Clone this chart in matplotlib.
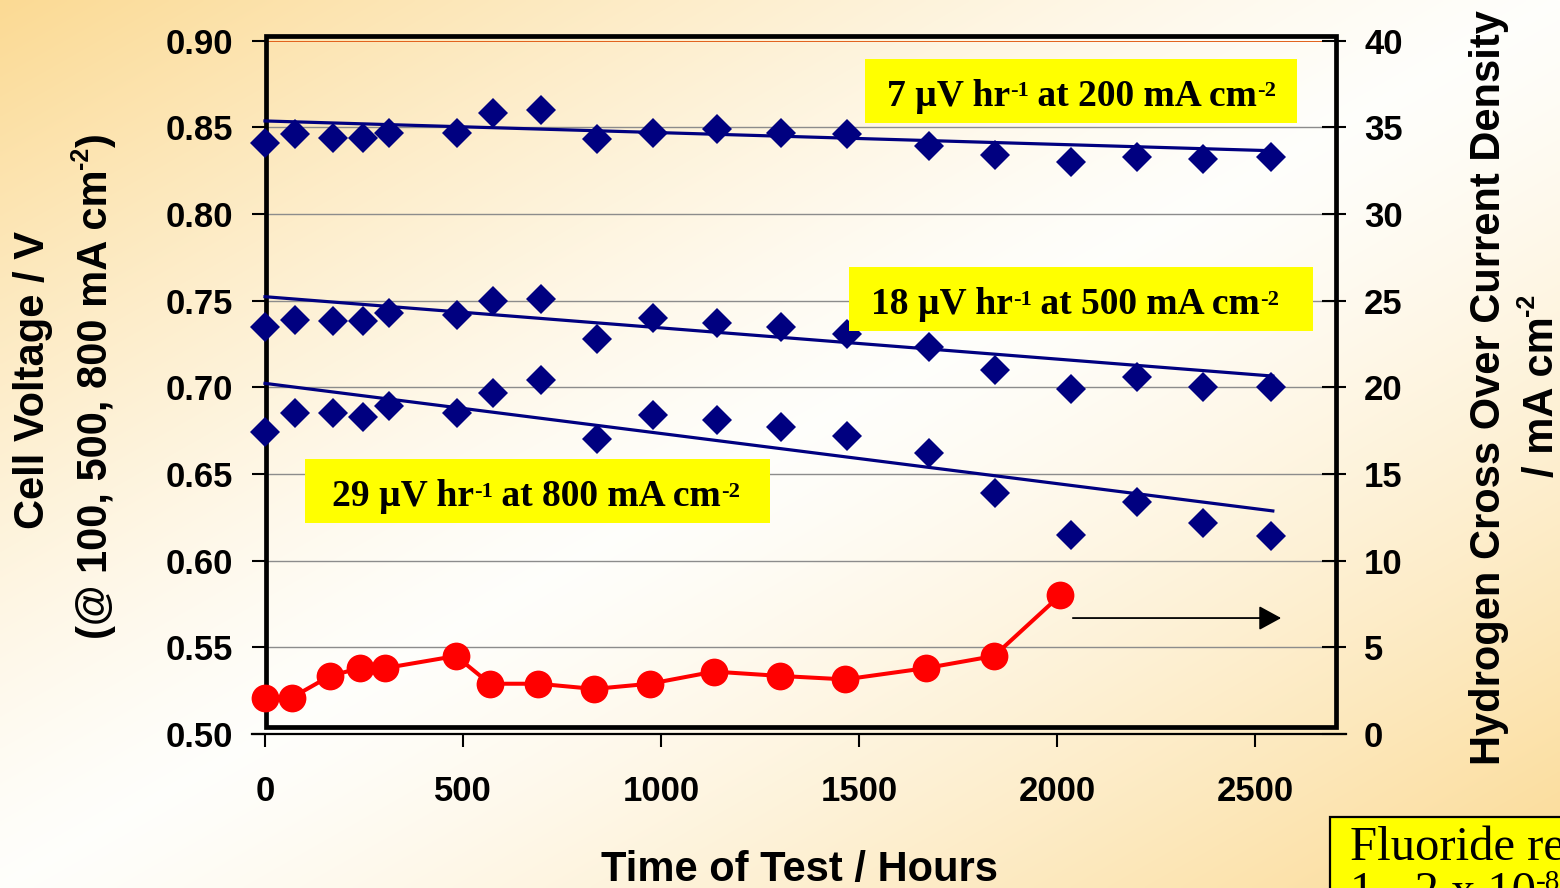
import numpy as np
import matplotlib
matplotlib.use("Agg")
import matplotlib.pyplot as plt
from matplotlib.patches import Rectangle

# ---------------- data ----------------
hours_v = [0, 76, 172, 247, 313, 485, 576, 697, 838, 980, 1141, 1303, 1470,
           1677, 1843, 2035, 2202, 2369, 2540]
v_100 = [0.841, 0.846, 0.844, 0.844, 0.847, 0.847, 0.858, 0.860, 0.843, 0.847,
         0.849, 0.847, 0.846, 0.839, 0.834, 0.830, 0.833, 0.832, 0.833]
v_500 = [0.735, 0.739, 0.738, 0.738, 0.743, 0.742, 0.750, 0.751, 0.728, 0.740,
         0.737, 0.735, 0.731, 0.723, 0.710, 0.699, 0.706, 0.700, 0.700]
v_800 = [0.674, 0.685, 0.685, 0.683, 0.689, 0.685, 0.697, 0.704, 0.670, 0.684,
         0.681, 0.677, 0.672, 0.662, 0.639, 0.615, 0.634, 0.622, 0.614]

trend_hours = [0, 2545]
trend_100 = [0.8537, 0.8365]
trend_500 = [0.7523, 0.7065]
trend_800 = [0.7023, 0.6287]

hours_h2 = [0, 68, 164, 240, 303, 482, 568, 690, 831, 972, 1134, 1301, 1465,
            1669, 1841, 2008]
h2_crossover = [2.1, 2.1, 3.35, 3.8, 3.8, 4.5, 2.9, 2.9, 2.6, 2.9, 3.6, 3.35,
                3.15, 3.8, 4.5, 8.0]

x_ticks = [0, 500, 1000, 1500, 2000, 2500]
v_ticks = [0.50, 0.55, 0.60, 0.65, 0.70, 0.75, 0.80, 0.85, 0.90]
h2_ticks = [0, 5, 10, 15, 20, 25, 30, 35, 40]

rate_rates = ["7", "18", "29"]
rate_currents = ["200", "500", "800"]
arrow_hours = [2040, 2566]
arrow_level = 0.5669

# ---------------- style ----------------
SANS = ["Liberation Sans", "DejaVu Sans"]
SERIF = ["Liberation Serif", "DejaVu Serif"]
plt.rcParams["font.family"] = SANS
plt.rcParams["font.weight"] = "bold"

W, H = 1560, 888
fig = plt.figure(figsize=(W / 100, H / 100), dpi=100)
renderer = fig.canvas.get_renderer()


def _width(s, fs, family, weight):
    t1 = fig.text(0, 0, "|" + s + "|", fontsize=fs, family=family, weight=weight)
    t2 = fig.text(0, 0, "||", fontsize=fs, family=family, weight=weight)
    w = t1.get_window_extent(renderer).width - t2.get_window_extent(renderer).width
    t1.remove()
    t2.remove()
    return w


def rich(x, y, parts, size, family, weight="bold", rotation=0, ha="center",
         sup_scale=0.6, rise=0.24, zorder=11):
    """Text with superscripts; (x, y) = baseline anchor in pixels from top-left."""
    items = []
    for s, sup in parts:
        fs = size * sup_scale if sup else size
        items.append((s, fs, sup, _width(s, fs, family, weight)))
    total = sum(it[3] for it in items)
    pos = -total / 2 if ha == "center" else 0.0
    em = size * 100 / 72
    for s, fs, sup, w in items:
        r = rise * em if sup else 0.0
        if rotation == 0:
            px, py = x + pos, y - r
        else:
            px, py = x - r, y - pos
        fig.text(px / W, 1 - py / H, s, fontsize=fs, family=family,
                 weight=weight, rotation=rotation, rotation_mode="anchor",
                 ha="left", va="baseline", zorder=zorder)
        pos += w


# background gradient
bg = fig.add_axes([0, 0, 1, 1], zorder=-5)
yy, xx = np.mgrid[0:1:300j, 0:1:520j]
t = (xx + yy) / 2.0
w = np.abs(2 * t - 1) ** 1.3
white = np.array([1.0, 0.997, 0.985])
orange = np.array([0.985, 0.855, 0.58])
img = white[None, None, :] * (1 - w[..., None]) + orange[None, None, :] * w[..., None]
bg.imshow(img, aspect="auto", interpolation="bilinear")
bg.axis("off")

NAVY = "#000080"

# main axes geometry (pixels)
x0_px, x1_px = 265, 265 + 2700 * 0.396
y_top_px, y_bot_px = 40.7, 734
ax = fig.add_axes([x0_px / W, 1 - y_bot_px / H, (x1_px - x0_px) / W,
                   (y_bot_px - y_top_px) / H])
ax.set_xlim(0, 2700)
ax.set_ylim(0.5, 0.9)
ax.patch.set_visible(False)

ax2 = ax.twinx()
ax2.set_ylim(0, 40)
ax2.patch.set_visible(False)

for s in ["top", "left", "right"]:
    ax.spines[s].set_visible(False)
for s in ax2.spines.values():
    s.set_visible(False)
ax.spines["bottom"].set_linewidth(1.6)
ax.spines["bottom"].set_bounds(-32, 2730)

# gridlines
ax.hlines(v_ticks[1:-1], 0, 2700, colors="#8c8c8c", linewidth=1.0, zorder=1)
ax.axhline(0.90, color="#e2601a", lw=1.4, zorder=1.2)

# frame
ax.add_patch(Rectangle((0.001, 0.0094), 1.0007, 0.998, transform=ax.transAxes,
                       fill=False, ec="black", lw=3.4, clip_on=False,
                       zorder=1.5, joinstyle="miter"))

# ticks
ax.set_xticks(x_ticks)
ax.set_xticklabels([str(v) for v in x_ticks])
ax.set_yticks(v_ticks)
ax.set_yticklabels([f"{v:.2f}" for v in v_ticks])
ax.tick_params(axis="y", direction="out", length=9.5, width=1.5, pad=13.5,
               labelsize=25)
ax.tick_params(axis="x", direction="out", length=9.5, width=1.5, pad=20,
               labelsize=25)
ax2.set_yticks(h2_ticks)
ax2.set_yticklabels([str(v) for v in h2_ticks])
ax2.tick_params(axis="y", direction="inout", length=17, width=1.5, pad=13,
                labelsize=25)

# data
for vals, tr in [(v_100, trend_100), (v_500, trend_500), (v_800, trend_800)]:
    ax.plot(hours_v, vals, linestyle="none", marker="D", color=NAVY, ms=14.8,
            mew=0, zorder=3, clip_on=False)
    ax.plot(trend_hours, tr, color=NAVY, lw=2.3, zorder=3.5, clip_on=False)

ax2.plot(hours_h2, h2_crossover, "-o", color="#ff0000", lw=2.9, ms=20, mew=0,
         clip_on=False, zorder=4)

ax.annotate("", xy=(arrow_hours[1], arrow_level),
            xytext=(arrow_hours[0], arrow_level),
            arrowprops=dict(arrowstyle="-|>,head_length=0.55,head_width=0.3",
                            mutation_scale=25, color="black", lw=1.3,
                            shrinkA=0, shrinkB=0), zorder=5)

# yellow annotation boxes (pixel positions)
boxes = [(865, 59, 1297, 123, 1081.5), (849, 267, 1313, 331, 1075),
         (305, 459, 770, 523, 536)]
for (bx0, by0, bx1, by1, tcx), rate, cur in zip(boxes, rate_rates, rate_currents):
    fig.patches.append(Rectangle((bx0 / W, 1 - by1 / H), (bx1 - bx0) / W,
                                 (by1 - by0) / H, transform=fig.transFigure,
                                 fc="#ffff00", ec="none", zorder=10))
    parts = [(f"{rate} µV hr", False), ("-1", True),
             (f" at {cur} mA cm", False), ("-2", True)]
    rich(tcx, by0 + 46.5, parts, 27, SERIF, weight="bold")

# fluoride box (cut by figure edge, as in the source slide)
fig.patches.append(Rectangle((1330 / W, 1 - 930 / H), 300 / W, 113 / H,
                             transform=fig.transFigure, fc="#ffff00",
                             ec="black", lw=1.6, zorder=10))
rich(1350, 860, [("Fluoride re", False)], 35, SERIF, weight="normal", ha="left")
rich(1350, 905, [("1 - 2 x 10", False), ("-8", True)], 35, SERIF,
     weight="normal", ha="left", rise=0.3)

# axis labels
rich(44, 380, [("Cell Voltage / V", False)], 30, SANS, rotation=90)
rich(107, 386, [("(@ 100, 500, 800 mA cm", False), ("-2", True), (")", False)],
     30, SANS, rotation=90, rise=0.45)
rich(1500, 388, [("Hydrogen Cross Over Current Density", False)], 30, SANS,
     rotation=90)
rich(1553, 385, [("/ mA cm", False), ("-2", True)], 30, SANS, rotation=90,
     rise=0.45)
fig.text(800 / W, 1 - 881 / H, "Time of Test / Hours", fontsize=30,
         weight="bold", ha="center", va="baseline")

fig.savefig("out.png", dpi=100)
